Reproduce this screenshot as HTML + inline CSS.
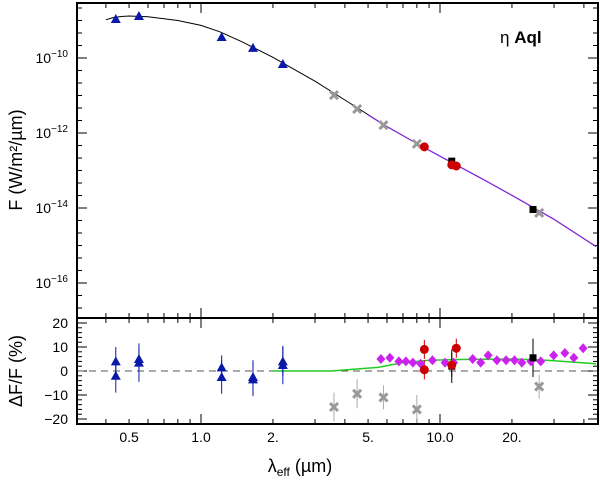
<!DOCTYPE html>
<html><head><meta charset="utf-8"><style>
body{margin:0;background:#fff;}
svg{display:block;font-family:"Liberation Sans",sans-serif;}
</style></head><body>
<svg id="c" width="600" height="481" xmlns="http://www.w3.org/2000/svg"></svg>
<script>
// ---- data ----
const modelLam = [0.4,0.43,0.47,0.5,0.6,0.8,1.0,1.2,1.5,2,3,4,6,8,10,15,20,30,45];
const modelLogF = [-8.98,-8.92,-8.89,-8.88,-8.9,-9.0,-9.13,-9.3,-9.58,-9.98,-10.62,-11.12,-11.83,-12.28,-12.62,-13.22,-13.66,-14.3,-15.03];
const fitLam = [5,6,8,10,15,20,30,45];
const fitLogF = [-11.52,-11.83,-12.28,-12.62,-13.22,-13.66,-14.3,-15.03];
const triLam = [0.44,0.55,1.22,1.65,2.2];
const triLogF = [-8.96,-8.88,-9.44,-9.73,-10.16];
const crossLam = [3.6,4.5,5.8,8.0,26];
const crossLogF = [-10.99,-11.36,-11.79,-12.29,-14.13];
const circLam = [8.6,11.2,11.7];
const circLogF = [-12.37,-12.85,-12.88];
const sqLam = [11.2,24.5];
const sqLogF = [-12.75,-14.04];
// residuals
const resTriLam = [0.44,0.44,0.55,0.55,1.22,1.22,1.65,1.65,2.2,2.2];
const resTriVal = [4,-2,5,3.5,1.5,-2.5,-2.5,-3.5,4,2.5];
const resTriErr = [6,7,5,8,5,7,7,7,6,8];
const resCrossLam = [3.6,4.5,5.8,8.0,26];
const resCrossVal = [-15,-9.5,-11,-16,-6.5];
const resCrossErr = [6,6,5,6,5];
const resCircLam = [8.6,8.6,11.2,11.7];
const resCircVal = [9,0.5,2.5,9.5];
const resCircErr = [4,4,5,4];
const resSqLam = [11.2,24.5];
const resSqVal = [2,5.5];
const resSqErr = [7,8];
const diaLam = [5.66,6.17,6.73,7.2,7.7,8.3,9.3,10.5,11.4,13.7,14.8,15.9,17.3,18.9,20.5,22.0,24.0,26.4,29.9,33.3,36.3,39.7];
const diaVal = [5,5.5,4,4,3.5,3,4.5,3.5,3.5,5,3.5,6.5,4.5,4.5,4.5,3.5,4,4,6.5,7.5,5.5,9.5];
const greenLam = [2,3.5,5.5,7,9,12,20,28,45];
const greenVal = [0,0,1.5,3.5,4.5,4.8,5,4.5,3];
const xTickVals = [0.5,1.0,2,5,10,20];
const xTickLabels = ["0.5","1.0","2.","5.","10.0","20."];
const yTopTicks = [-10,-12,-14,-16];
const yBotTicks = [20,10,0,-10,-20];

// ---- scales ----
const L=77,R=598,T=3,M=318,B=424;
const X = l => 201 + 239*Math.log10(l);
const Y = lf => 58 + (-10 - lf)*37.5;
const YR = v => 371 - v*2.4;
const NS="http://www.w3.org/2000/svg";
const svg=document.getElementById('c');
function el(tag,attrs,parent){const e=document.createElementNS(NS,tag);for(const k in attrs)e.setAttribute(k,attrs[k]);(parent||svg).appendChild(e);return e;}
function grp(name){const g=el('g',{});return g;}

const defs=el('defs',{});
const cp1=el('clipPath',{id:'cp1'},defs);el('rect',{x:L,y:T,width:R-L,height:M-T},cp1);
const cp2=el('clipPath',{id:'cp2'},defs);el('rect',{x:L,y:M,width:R-L,height:B-M},cp2);

const ticks=grp('axis-ticks');
function tk(x1,y1,x2,y2){el('line',{x1,y1,x2,y2,stroke:'#000','stroke-width':1},ticks);}
for(let d=-1;d<=1;d++)for(let m=1;m<10;m++){const l=m*Math.pow(10,d);const x=X(l);if(x<L||x>R)continue;const len=(m==1)?10:5;
 tk(x,T,x,T+len);tk(x,M,x,M-len);tk(x,M,x,M+len);tk(x,B,x,B-len);}
for(let v=-17;v<=-8.5;v+=1/3){const y=Y(v);if(y<T||y>M)continue;const maj=Math.abs(v-Math.round(v))<0.01&&Math.round(v)%2==0;const len=maj?10:5;tk(L,y,L+len,y);tk(R,y,R-len,y);}
for(let v=-20;v<=20;v+=2){const y=YR(v);const len=(v%10==0)?10:5;tk(L,y,L+len,y);tk(R,y,R-len,y);}

const tl=grp('tick-labels');
yTopTicks.forEach(v=>{const t=el('text',{x:68,y:Y(v)+5,'text-anchor':'end','font-size':14},tl);t.textContent='10';const s=el('tspan',{dy:-6,'font-size':10},t);s.textContent='−'+Math.abs(v);});
yBotTicks.forEach(v=>{const t=el('text',{x:68,y:YR(v)+5,'text-anchor':'end','font-size':14},tl);t.textContent=(v<0?'−':'')+Math.abs(v);});
xTickVals.forEach((v,i)=>{const t=el('text',{x:X(v),y:442,'text-anchor':'middle','font-size':14},tl);t.textContent=xTickLabels[i];});

const yt=el('text',{x:0,y:0,'font-size':18,'text-anchor':'middle',transform:'translate(22,160) rotate(-90)'});yt.textContent='F (W/m²/µm)';

const yt2=el('text',{x:0,y:0,'font-size':18,'text-anchor':'middle',transform:'translate(22,371) rotate(-90)'});yt2.textContent='ΔF/F (%)';

const xt=el('text',{x:300,y:472,'font-size':18,'text-anchor':'middle'});xt.textContent='λ';const sub=el('tspan',{dy:4,'font-size':12},xt);sub.textContent='eff';const rest=el('tspan',{dy:-4},xt);rest.textContent=' (µm)';

const ti=el('text',{x:500,y:43,'font-size':17});ti.textContent='η ';const b=el('tspan',{'font-weight':'bold'},ti);b.textContent='Aql';


const up=el('g',{'clip-path':'url(#cp1)'});
let d=modelLam.map((l,i)=>(i?'L':'M')+X(l).toFixed(1)+','+Y(modelLogF[i]).toFixed(1)).join('');
const mp=el('path',{d,fill:'none',stroke:'#000','stroke-width':1},up);
d=fitLam.map((l,i)=>(i?'L':'M')+X(l).toFixed(1)+','+Y(fitLogF[i]).toFixed(1)).join('');
const fp=el('path',{d,fill:'none',stroke:'#8a2be2','stroke-width':1.2},up);

function tri(g,x,y){const p=el('polygon',{points:`${x},${y-5} ${x-5},${y+4} ${x+5},${y+4}`,fill:'#0a1aa8'},g);}
function cross(g,x,y){const p=el('path',{d:`M${x-4},${y-4}L${x+4},${y+4}M${x+4},${y-4}L${x-4},${y+4}`,stroke:'#999','stroke-width':3},g);}
function circ(g,x,y){const p=el('circle',{cx:x,cy:y,r:4.5,fill:'#c00'},g);}
function sq(g,x,y){const p=el('rect',{x:x-3.5,y:y-3.5,width:7,height:7,fill:'#000'},g);}
function dia(g,x,y){const p=el('polygon',{points:`${x},${y-5} ${x+4.5},${y} ${x},${y+5} ${x-4.5},${y}`,fill:'#cc22ee'},g);}
function err(g,x,v,e,c){el('line',{x1:x,x2:x,y1:YR(v-e),y2:YR(v+e),stroke:c,'stroke-width':1},g);}

triLam.forEach((l,i)=>tri(up,X(l),Y(triLogF[i])));
crossLam.forEach((l,i)=>cross(up,X(l),Y(crossLogF[i])));
sqLam.forEach((l,i)=>sq(up,X(l),Y(sqLogF[i])));
circLam.forEach((l,i)=>circ(up,X(l),Y(circLogF[i])));

const lo=el('g',{'clip-path':'url(#cp2)'});
const zl=el('line',{x1:L,x2:R,y1:YR(0),y2:YR(0),stroke:'#555','stroke-dasharray':'7,5','stroke-width':1},lo);
d=greenLam.map((l,i)=>(i?'L':'M')+X(l).toFixed(1)+','+YR(greenVal[i]).toFixed(1)).join('');
const gp=el('path',{d,fill:'none',stroke:'#22cc22','stroke-width':1.5},lo);
resTriLam.forEach((l,i)=>err(lo,X(l),resTriVal[i],resTriErr[i],'#0a1aa8'));
resCrossLam.forEach((l,i)=>err(lo,X(l),resCrossVal[i],resCrossErr[i],'#aaa'));
resCircLam.forEach((l,i)=>err(lo,X(l),resCircVal[i],resCircErr[i],'#c00'));
resSqLam.forEach((l,i)=>err(lo,X(l),resSqVal[i],resSqErr[i],'#000'));
diaLam.forEach((l,i)=>dia(lo,X(l),YR(diaVal[i])));
resTriLam.forEach((l,i)=>tri(lo,X(l),YR(resTriVal[i])));
resCrossLam.forEach((l,i)=>cross(lo,X(l),YR(resCrossVal[i])));
resSqLam.forEach((l,i)=>sq(lo,X(l),YR(resSqVal[i])));
resCircLam.forEach((l,i)=>circ(lo,X(l),YR(resCircVal[i])));

const fr=el('rect',{x:L,y:T,width:R-L,height:M-T,fill:'none',stroke:'#000','stroke-width':2});
const fr2=el('rect',{x:L,y:M,width:R-L,height:B-M,fill:'none',stroke:'#000','stroke-width':2});
</script>
</body></html>
